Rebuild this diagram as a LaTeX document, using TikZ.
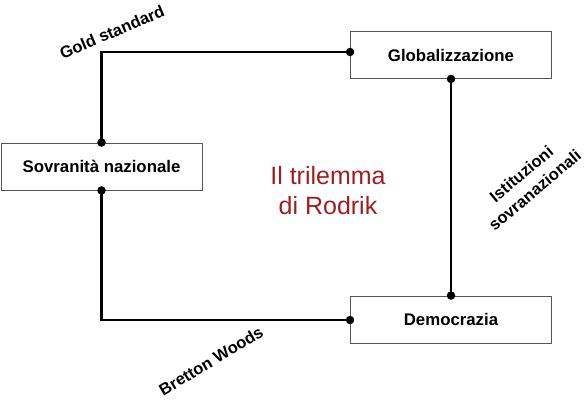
\documentclass[tikz,border=0pt]{standalone}
\usepackage{fontspec}
\setmainfont{Liberation Sans}
\definecolor{titlered}{HTML}{A01E23}
\definecolor{boxgray}{HTML}{555555}
\begin{document}
\begin{tikzpicture}[x=1pt,y=-1pt,
  box/.style={draw=boxgray,line width=0.9pt,fill=white,minimum width=201pt,minimum height=47pt,inner sep=0pt,font=\fontsize{16.8}{20}\selectfont\bfseries},
  conn/.style={line width=2.6pt,line cap=rect},
  dotc/.style={circle,fill=black,inner sep=0pt,minimum size=8.5pt},
  lab/.style={font=\fontsize{16.5}{21}\selectfont\bfseries,inner sep=0pt,align=center}]
\useasboundingbox[fill=white] (0,0) rectangle (587,400);
\node[box] (glob) at (451,55) {Globalizzazione};
\node[box] (sov) at (101.5,166.5) {Sovranità nazionale};
\node[box] (dem) at (451,319.5) {Democrazia};
\coordinate (c1) at (101.5,52);
\coordinate (c2) at (101.5,320);
\draw[conn] (sov.north) -- (c1) -- (glob.west |- c1);
\draw[conn] (sov.south) -- (c2) -- (dem.west |- c2);
\draw[conn] (glob.south) -- (dem.north);
\node[dotc] at (sov.north) {};
\node[dotc] at (sov.south) {};
\node[dotc] at (glob.west |- c1) {};
\node[dotc] at (dem.west |- c2) {};
\node[dotc] at (glob.south) {};
\node[dotc] at (dem.north) {};
\node[font=\fontsize{25}{30}\selectfont,text=titlered,align=center] (title) at (328,191) {Il trilemma\\di Rodrik};
\node[lab,rotate=23] (gold) at (112,32) {Gold standard};
\node[lab,rotate=31] (bw) at (211,361) {Bretton Woods};
\node[lab,rotate=40] (ist) at (528,182) {Istituzioni\\sovranazionali};
\end{tikzpicture}
\end{document}
